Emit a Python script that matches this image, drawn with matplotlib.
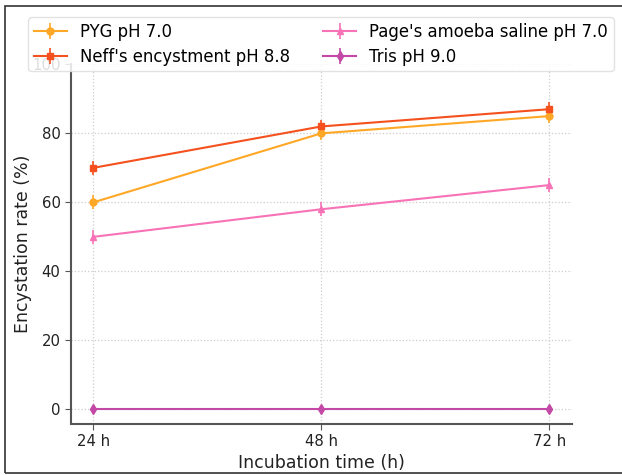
import matplotlib
matplotlib.use("Agg")
import matplotlib.pyplot as plt
from matplotlib.patches import Rectangle

hours = [24, 48, 72]
tick_labels = ["24 h", "48 h", "72 h"]
series_names = ["PYG pH 7.0", "Neff's encystment pH 8.8", "Page's amoeba saline pH 7.0", "Tris pH 9.0"]
pyg = [60, 80, 85]
neff = [70, 82, 87]
page = [50, 58, 65]
tris = [0, 0, 0]
pyg_err = [2, 2, 2]
neff_err = [2, 2, 2]
page_err = [2, 2, 2]
tris_err = [0.5, 0.5, 0.5]

colors = ["#FFA726", "#F4511E", "#F772B6", "#C448A6"]
markers = ["o", "s", "^", "d"]

fig = plt.figure(figsize=(6.22, 4.75), dpi=100)
ax = fig.add_axes([71/622, 1 - 423.5/475, (571.7-71)/622, (423.5-64)/475])

for vals, errs, name, c, m in zip([pyg, neff, page, tris], [pyg_err, neff_err, page_err, tris_err],
                                  series_names, colors, markers):
    ax.errorbar(hours, vals, yerr=errs, label=name, color=c, marker=m, markersize=5,
                linewidth=1.5, elinewidth=1.2, capsize=0)

ax.set_xlim(21.65, 74.36)
ax.set_ylim(-4.1, 100.1)
ax.set_xticks(hours)
ax.set_xticklabels(tick_labels)
ax.set_yticks([0, 20, 40, 60, 80, 100])
ax.grid(True, linestyle=":", color="#cccccc", linewidth=0.9)
ax.set_axisbelow(True)
for s in ["top", "right"]:
    ax.spines[s].set_visible(False)
for s in ["left", "bottom"]:
    ax.spines[s].set_color("#555555")
    ax.spines[s].set_linewidth(1.5)
ax.tick_params(labelsize=10.7, labelcolor="#222222", color="#555555", length=4)
ax.set_xlabel("Incubation time (h)", fontsize=12.5, color="#222222", labelpad=4)
ax.set_ylabel("Encystation rate (%)", fontsize=12.5, color="#222222", labelpad=0)

leg = fig.legend(loc="upper left", bbox_to_anchor=(28.3/622, 1 - 17.3/475), ncol=2, fontsize=11.9,
                 frameon=True, fancybox=True, framealpha=0.85, edgecolor="#dddddd",
                 labelspacing=0.42, borderpad=0.33, borderaxespad=0)

fig.patches.append(Rectangle((5/622, 2/475), 1.2, 1 - 8/475, transform=fig.transFigure,
                             fill=False, edgecolor="#333333", linewidth=1.2))

fig.savefig("out.png", dpi=100)
